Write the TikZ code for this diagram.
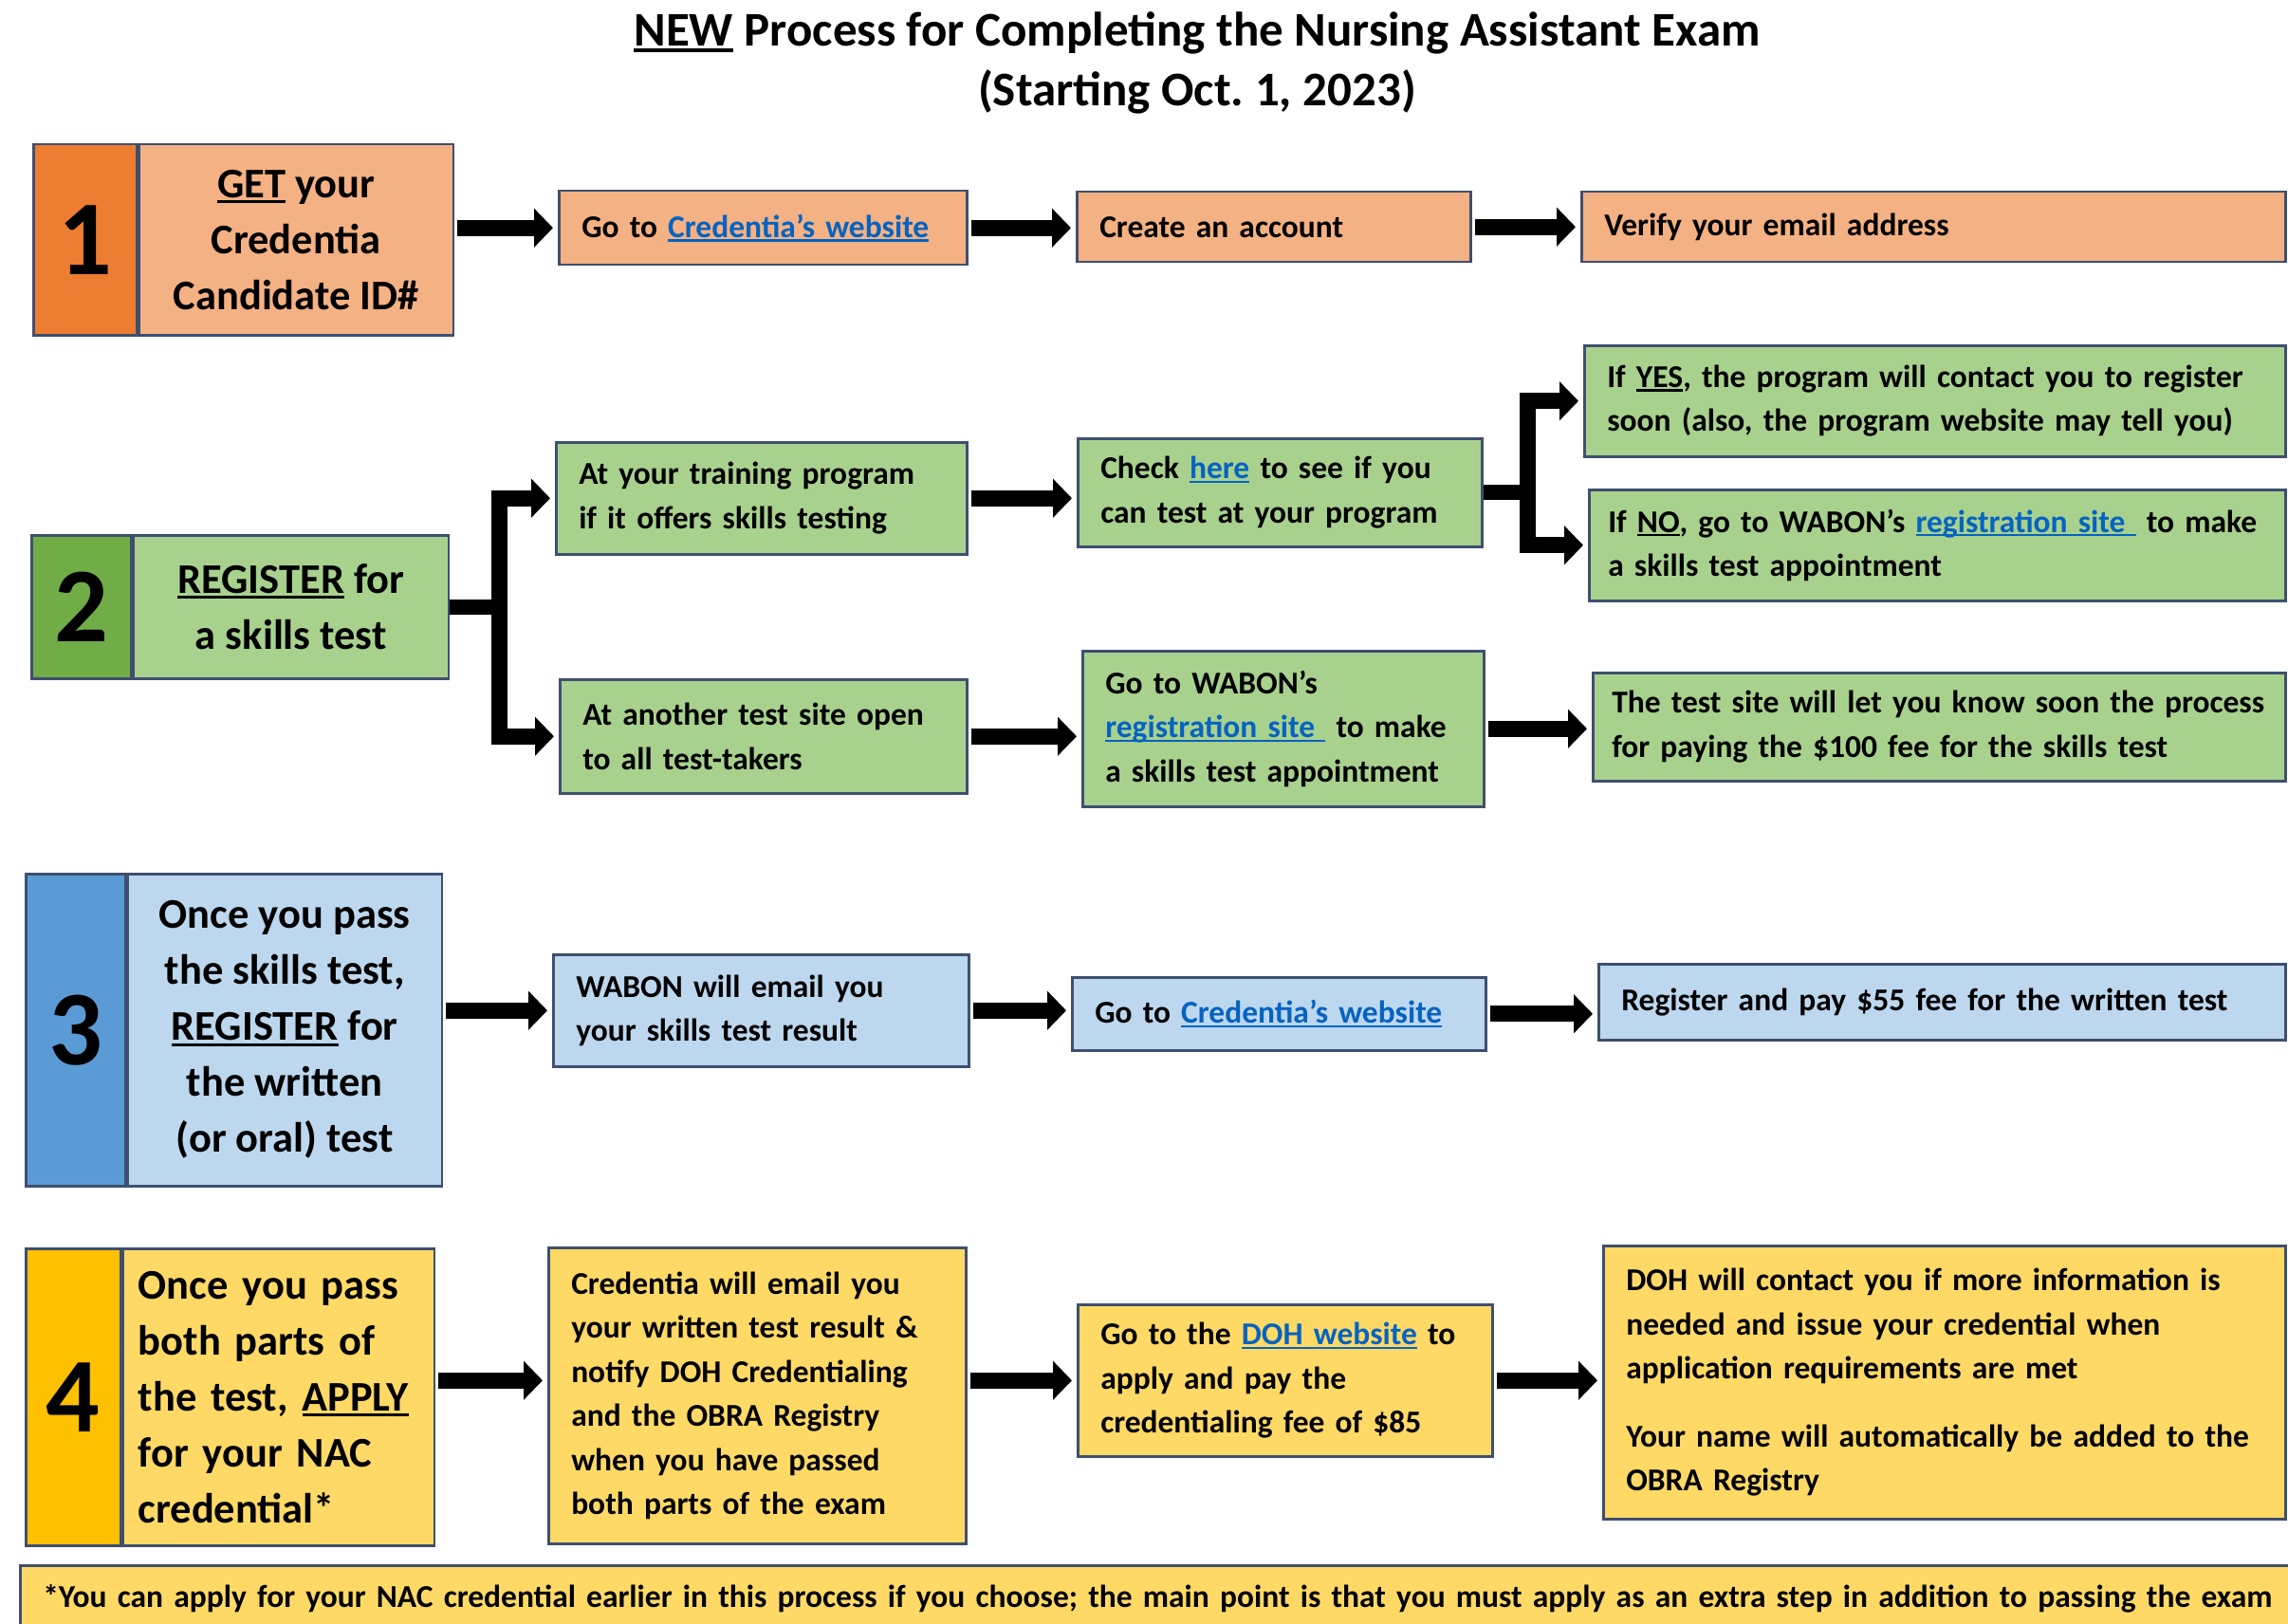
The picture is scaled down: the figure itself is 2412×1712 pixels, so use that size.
\documentclass[tikz,border=0pt]{standalone}
\usepackage{fontspec}
\setmainfont{Carlito}
\usetikzlibrary{arrows.meta,positioning}

\definecolor{orangeD}{HTML}{ED7D31}
\definecolor{orangeL}{HTML}{F4B183}
\definecolor{greenD}{HTML}{70AD47}
\definecolor{greenL}{HTML}{A9D18E}
\definecolor{blueD}{HTML}{5B9BD5}
\definecolor{blueL}{HTML}{BDD7EE}
\definecolor{goldD}{HTML}{FFC000}
\definecolor{goldL}{HTML}{FFD966}
\definecolor{edge}{HTML}{3F4F6F}
\definecolor{linkblue}{HTML}{0563C1}

\newcommand\bxfont{\fontsize{33.5}{46.5}\selectfont\bfseries}
\newcommand\stfont{\fontsize{44.5}{59}\selectfont\bfseries}
\newcommand\nmfont{\fontsize{112}{112}\selectfont\bfseries}
\newcommand\ttlfont{\fontsize{51}{63}\selectfont\bfseries}
\newcommand\undl[1]{\setbox0=\hbox{#1}\rlap{\rule[-0.13em]{\wd0}{0.07em}}\box0\relax}
\newcommand\lnk[1]{\textcolor{linkblue}{\undl{#1}}}

\begin{document}
\begin{tikzpicture}[x=1pt, y=-1pt,
    box/.style={draw=edge, line width=2.5pt, inner xsep=24pt, inner ysep=0pt,
      align=left, anchor=north west, font=\bxfont},
    numbox/.style={draw=edge, line width=2.5pt, inner sep=0pt, anchor=north west, font=\nmfont},
    stepbox/.style={draw=edge, line width=2.5pt, inner sep=0pt, align=center, font=\stfont},
    fat/.style={line width=17pt, -{Triangle[length=20pt,width=40pt]}, shorten >=5pt, shorten <=3pt},
    bar/.style={line width=16pt}]
	\useasboundingbox (0,0) rectangle (2412,1712);
	% title
	\node[font=\ttlfont, align=center] (title) at (1262,66)
		{\undl{NEW} Process for Completing the Nursing Assistant Exam\\(Starting Oct.~1, 2023)};

	% step 1
	\node[numbox, fill=orangeD, minimum width=109pt, minimum height=201pt] (n1) at (34,151) {1};
	\node[stepbox, fill=orangeL, minimum width=331pt, minimum height=201pt, right=0pt of n1] (s1)
		{\undl{GET} your\\Credentia\\Candidate ID\#};
	\node[box, fill=orangeL, text width=382pt, minimum height=78pt] (site1) at (588,200)
		{Go to \lnk{Credentia’s website}};
	\node[box, fill=orangeL, text width=367pt, minimum height=74pt] (acct) at (1134,201)
		{Create an account};
	\node[box, fill=orangeL, text width=694pt, minimum height=74pt] (verify) at (1666,201)
		{Verify your email address};
	\draw[fat] (s1.east |- site1.west) -- (site1.west);
	\draw[fat] (site1.east) -- (site1.east -| acct.west);
	\draw[fat] (acct.east) -- (acct.east -| verify.west);

	% step 2
	\node[numbox, fill=greenD, minimum width=105pt, minimum height=151pt] (n2) at (32,563) {2};
	\node[stepbox, fill=greenL, minimum width=332pt, minimum height=151pt, right=0pt of n2] (s2)
		{\undl{REGISTER} for\\a skills test};
	\node[box, fill=greenL, text width=385pt, minimum height=118pt] (train) at (585,465)
		{At your training program\\if it offers skills testing};
	\node[box, fill=greenL, text width=381pt, minimum height=120pt] (other) at (589,715)
		{At another test site open\\to all test-takers};
	\node[box, fill=greenL, text width=378pt, minimum height=114pt] (check) at (1135,461)
		{Check \lnk{here} to see if you\\can test at your program};
	\node[box, fill=greenL, text width=691pt, minimum height=117pt] (yes) at (1669,363)
		{If \undl{YES}, the program will contact you to register\\soon (also, the program website may tell you)};
	\node[box, fill=greenL, inner xsep=20pt, text width=694pt, minimum height=117pt] (no) at (1674,515)
		{If \undl{NO}, go to WABON’s \lnk{registration site~} to make\\a skills test appointment};
	\node[box, fill=greenL, text width=375pt, minimum height=164pt] (wabon) at (1140,685)
		{Go to WABON’s\\\lnk{registration site~} to make\\a skills test appointment};
	\node[box, fill=greenL, inner xsep=20pt, text width=690pt, minimum height=114pt] (fee) at (1678,708)
		{The test site will let you know soon the process\\for paying the \$100 fee for the skills test};
	\draw[bar] (s2.east) -- ++(52,0) coordinate (j2);
	\draw[fat, shorten <=0pt] (j2) |- (train.west);
	\draw[fat, shorten <=0pt] (j2) |- (other.west);
	\draw[fat] (train.east) -- (train.east -| check.west);
	\draw[bar] (check.east) -- ++(47,0) coordinate (j3);
	\draw[fat, shorten <=0pt] (j3) |- (yes.west);
	\draw[fat, shorten <=0pt] (j3) |- (no.west);
	\draw[fat] (other.east) -- (other.east -| wabon.west);
	\draw[fat] (wabon.east) -- (wabon.east -| fee.west);

	% step 3
	\node[numbox, fill=blueD, minimum width=105pt, minimum height=329pt] (n3) at (26,920) {3};
	\node[stepbox, fill=blueL, minimum width=331pt, minimum height=329pt, right=0pt of n3] (s3)
		{Once you pass\\the skills test,\\\undl{REGISTER} for\\the written\\(or oral) test};
	\node[box, fill=blueL, text width=390pt, minimum height=118pt] (result) at (582,1005)
		{WABON will email you\\your skills test result};
	\node[box, fill=blueL, text width=388pt, minimum height=77pt] (site3) at (1129,1029)
		{Go to \lnk{Credentia’s website}};
	\node[box, fill=blueL, text width=676pt, minimum height=80pt] (written) at (1684,1015)
		{Register and pay \$55 fee for the written test};
	\draw[fat] (s3.east |- result.west) -- (result.west);
	\draw[fat] (result.east) -- (result.east -| site3.west);
	\draw[fat] (site3.east) -- (site3.east -| written.west);

	% step 4
	\node[numbox, fill=goldD, minimum width=100pt, minimum height=313pt] (n4) at (26,1315) {4};
	\node[stepbox, fill=goldL, align=left, inner xsep=16pt, text width=296pt, minimum height=313pt,
		right=0pt of n4] (s4)
		{Once you pass\\both parts of\\the test, \undl{APPLY}\\for your NAC\\credential*};
	\node[box, fill=goldL, text width=392pt, minimum height=312pt] (notify) at (577,1314)
		{Credentia will email you\\your written test result \&\\notify DOH Credentialing\\and the OBRA Registry\\when you have passed\\both parts of the exam};
	\node[box, fill=goldL, text width=389pt, minimum height=160pt] (doh) at (1135,1374)
		{Go to the \lnk{DOH website} to\\apply and pay the\\credentialing fee of \$85};
	\node[box, fill=goldL, text width=671pt, minimum height=288pt] (issue) at (1689,1312)
		{DOH will contact you if more information is\\needed and issue your credential when\\application requirements are met\\[25pt]Your name will automatically be added to the\\OBRA Registry};
	\draw[fat] (s4.east |- doh.west) -- (notify.west |- doh.west);
	\draw[fat] (notify.east |- doh.west) -- (doh.west);
	\draw[fat] (doh.east) -- (doh.east -| issue.west);

	% footnote
	\node[box, fill=goldL, text width=2420pt, minimum height=70pt] (note) at (20,1649)
		{*You can apply for your NAC credential earlier in this process if you choose; the main point is that you must apply as an extra step in addition to passing the exam};
\end{tikzpicture}
\end{document}
